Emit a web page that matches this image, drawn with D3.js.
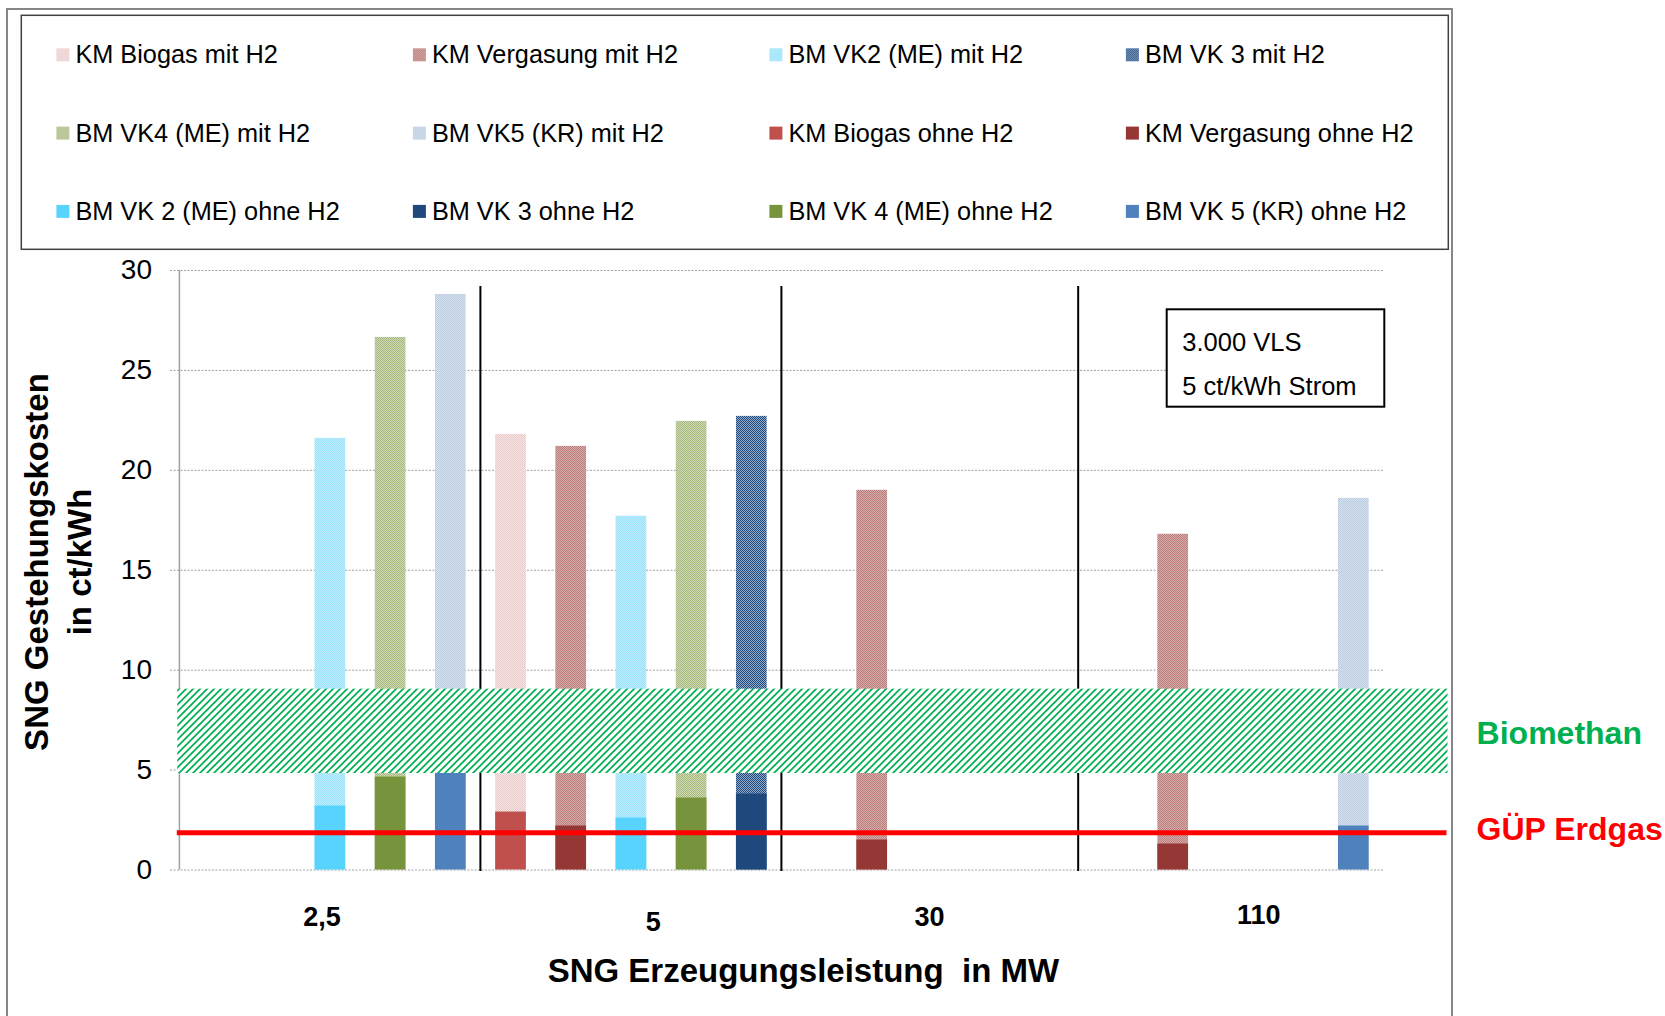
<!DOCTYPE html>
<html>
<head>
<meta charset="utf-8">
<script src="https://cdn.jsdelivr.net/npm/d3@7"></script>
<style>
  html, body { margin: 0; padding: 0; background: #fff; }
  svg { display: block; }
</style>
</head>
<body>
<svg id="chart" width="1665" height="1016"></svg>
<script>
// ---- data -------------------------------------------------------------
// 20 bar slots along the x axis, grouped into four plant sizes (MW)
const slots = d3.range(20);
const sizeLabels = ["2,5", "5", "30", "110"];
const sizeBoundaries = [5, 10, 14.93];          // group dividers, in slot units

// legend entries (series names)
const legendMit  = ["KM Biogas mit H2", "KM Vergasung mit H2", "BM VK2 (ME) mit H2",
                    "BM VK 3 mit H2", "BM VK4 (ME) mit H2", "BM VK5 (KR) mit H2"];
const legendOhne = ["KM Biogas ohne H2", "KM Vergasung ohne H2", "BM VK 2 (ME) ohne H2",
                    "BM VK 3 ohne H2", "BM VK 4 (ME) ohne H2", "BM VK 5 (KR) ohne H2"];

// one entry per drawn bar: slot, plant (index into the lists above), costs in ct/kWh
const barSlot    = [2, 3, 4, 5, 6, 7, 8, 9, 11, 16, 19];
const barPlant   = [2, 4, 5, 0, 1, 2, 4, 3, 1, 1, 5];
const costMitH2  = [21.6, 26.65, 28.8, 21.8, 21.2, 17.7, 22.45, 22.7, 19.0, 16.8, 18.6];
const costOhneH2 = [3.2, 4.65, 5.0, 2.9, 2.2, 2.6, 3.6, 3.8, 1.5, 1.3, 2.2];

const yTicks = [0, 5, 10, 15, 20, 25, 30];
const biomethanRange = [4.83, 9.05];   // ct/kWh
const erdgasPrice = 1.84;              // GÜP Erdgas, ct/kWh
const infoLines = ["3.000 VLS", "5 ct/kWh Strom"];

// ---- styles -----------------------------------------------------------
const FONT = '"Liberation Sans", Arial, Helvetica, sans-serif';
const mitStyle = [
  { base: "#F6E6E6", dot: "#E8C9C8" },
  { base: "#D6ACAB", dot: "#BA7E7D" },
  { base: "#BDEEFD", dot: "#9BE1FA" },
  { base: "#93AACB", dot: "#1F497D" },
  { base: "#CFD9B6", dot: "#A6B87C" },
  { base: "#D8E3F0", dot: "#B9CAE1" }
];
const ohneColor = ["#C0504D", "#953735", "#57D3FE", "#1F497D", "#77933C", "#4F81BD"];

// ---- layout -----------------------------------------------------------
const plotLeft = 179.4, plotRight = 1383.4, yTop = 270, yBottom = 869.5;
const gridLeft = 170, gridRight = 1384.4;
const sizeLabelPos = [[2.37, 926], [7.87, 930.7], [12.46, 926], [17.93, 924]];

const svg = d3.select("#chart").attr("font-family", FONT);

const x = d3.scaleBand().domain(slots).range([plotLeft, plotRight])
  .paddingInner(0.49).paddingOuter(0.245);
const slotEdge = d3.scaleLinear().domain([0, 20]).range([plotLeft, plotRight]);
const y = d3.scaleLinear().domain([0, 30]).range([yBottom, yTop]);

// fill patterns
const defs = svg.append("defs");
mitStyle.forEach((s, i) => {
  const p = defs.append("pattern").attr("id", "mit" + i)
    .attr("width", 2).attr("height", 2).attr("patternUnits", "userSpaceOnUse");
  p.append("rect").attr("width", 2).attr("height", 2).attr("fill", s.base);
  p.append("rect").attr("width", 1).attr("height", 1).attr("fill", s.dot);
  p.append("rect").attr("x", 1).attr("y", 1).attr("width", 1).attr("height", 1).attr("fill", s.dot);
});
const hatch = defs.append("pattern").attr("id", "hatch")
  .attr("width", 7).attr("height", 7).attr("patternUnits", "userSpaceOnUse");
hatch.append("rect").attr("width", 7).attr("height", 7).attr("fill", "#fff");
hatch.append("path").attr("d", "M-1,1 L1,-1 M0,7 L7,0 M6,8 L8,6")
  .attr("stroke", "#00B050").attr("stroke-width", 1.7);

// outer chart frame
svg.append("rect").attr("x", 7).attr("y", 9).attr("width", 1445).attr("height", 1100)
  .attr("fill", "none").attr("stroke", "#868686").attr("stroke-width", 2);

// ---- legend -----------------------------------------------------------
svg.append("rect").attr("x", 21.3).attr("y", 15.3).attr("width", 1427).attr("height", 234)
  .attr("fill", "#fff").attr("stroke", "#404040").attr("stroke-width", 1.5);

const legendItems = legendMit.map((n, i) => ({ name: n, fill: `url(#mit${i})` }))
  .concat(legendOhne.map((n, i) => ({ name: n, fill: ohneColor[i] })));
const lg = svg.append("g").selectAll("g").data(legendItems).join("g")
  .attr("transform", (d, i) => `translate(${75.4 + (i % 4) * 356.5},${63.3 + Math.floor(i / 4) * 78.3})`);
lg.append("rect").attr("x", -19).attr("y", -15).attr("width", 13).attr("height", 13)
  .attr("fill", d => d.fill);
lg.append("text").attr("font-size", 25.3).attr("fill", "#000").text(d => d.name);

// ---- y axis with gridlines ---------------------------------------------
const yAxis = d3.axisLeft(y).tickValues(yTicks)
  .tickSizeInner(-(gridRight - gridLeft)).tickSizeOuter(0).tickPadding(18)
  .tickFormat(d3.format("d"));
const ga = svg.append("g").attr("transform", `translate(${gridLeft},0)`).call(yAxis);
ga.attr("font-family", FONT).attr("font-size", 28);
ga.select(".domain").remove();
ga.selectAll(".tick line").attr("stroke", "#A0A0A0").attr("stroke-dasharray", "2,1.5");
ga.selectAll(".tick text").attr("fill", "#000");
svg.append("line").attr("x1", plotLeft).attr("x2", plotLeft).attr("y1", yTop).attr("y2", yBottom)
  .attr("stroke", "#A0A0A0").attr("stroke-width", 1.5);

// ---- bars ---------------------------------------------------------------
const bars = barSlot.map((s, i) => ({ slot: s, plant: barPlant[i], mit: costMitH2[i], ohne: costOhneH2[i] }));
const gb = svg.append("g");
gb.selectAll("rect.mit").data(bars).join("rect").attr("class", "mit")
  .attr("x", d => x(d.slot)).attr("width", x.bandwidth())
  .attr("y", d => y(d.mit)).attr("height", d => y(0) - y(d.mit))
  .attr("fill", d => `url(#mit${d.plant})`);
gb.selectAll("rect.ohne").data(bars).join("rect").attr("class", "ohne")
  .attr("x", d => x(d.slot)).attr("width", x.bandwidth())
  .attr("y", d => y(d.ohne)).attr("height", d => y(0) - y(d.ohne))
  .attr("fill", d => ohneColor[d.plant]);

// group dividers
svg.append("g").selectAll("line").data(sizeBoundaries).join("line")
  .attr("x1", d => slotEdge(d)).attr("x2", d => slotEdge(d))
  .attr("y1", y(29.2)).attr("y2", y(-0.08))
  .attr("stroke", "#000").attr("stroke-width", 2);

// Biomethan cost range
svg.append("rect").attr("x", 177.3).attr("width", 1447.5 - 177.3)
  .attr("y", y(biomethanRange[1])).attr("height", y(biomethanRange[0]) - y(biomethanRange[1]))
  .attr("fill", "url(#hatch)");

// natural gas price line
svg.append("line").attr("x1", 176.8).attr("x2", 1446.5)
  .attr("y1", y(erdgasPrice)).attr("y2", y(erdgasPrice))
  .attr("stroke", "#FF0000").attr("stroke-width", 5);

svg.append("text").attr("x", 1476.6).attr("y", 744).attr("font-size", 32).attr("font-weight", "bold")
  .attr("fill", "#00B050").text("Biomethan");
svg.append("text").attr("x", 1476.6).attr("y", 840).attr("font-size", 32).attr("font-weight", "bold")
  .attr("fill", "#FF0000").text("GÜP Erdgas");

// parameter box
svg.append("rect").attr("x", 1166.7).attr("y", 309.3).attr("width", 217.6).attr("height", 97.4)
  .attr("fill", "#fff").attr("stroke", "#000").attr("stroke-width", 2);
svg.append("g").selectAll("text").data(infoLines).join("text")
  .attr("x", 1182.3).attr("y", (d, i) => 350.5 + i * 44.5)
  .attr("font-size", 25.5).attr("fill", "#000").text(d => d);

// size category labels
svg.append("g").selectAll("text").data(sizeLabels).join("text")
  .attr("x", (d, i) => slotEdge(sizeLabelPos[i][0])).attr("y", (d, i) => sizeLabelPos[i][1])
  .attr("text-anchor", "middle").attr("font-size", 27).attr("font-weight", "bold")
  .text(d => d);

// axis titles
svg.append("text").attr("x", 803.4).attr("y", 982).attr("text-anchor", "middle")
  .attr("font-size", 33).attr("font-weight", "bold").style("white-space", "pre")
  .text("SNG Erzeugungsleistung  in MW");
const yt = svg.append("g").attr("transform", "translate(0,562) rotate(-90)");
yt.append("text").attr("x", 0).attr("y", 48).attr("text-anchor", "middle")
  .attr("font-size", 33).attr("font-weight", "bold").text("SNG Gestehungskosten");
yt.append("text").attr("x", 0).attr("y", 91).attr("text-anchor", "middle")
  .attr("font-size", 33).attr("font-weight", "bold").text("in ct/kWh");
</script>
</body>
</html>
